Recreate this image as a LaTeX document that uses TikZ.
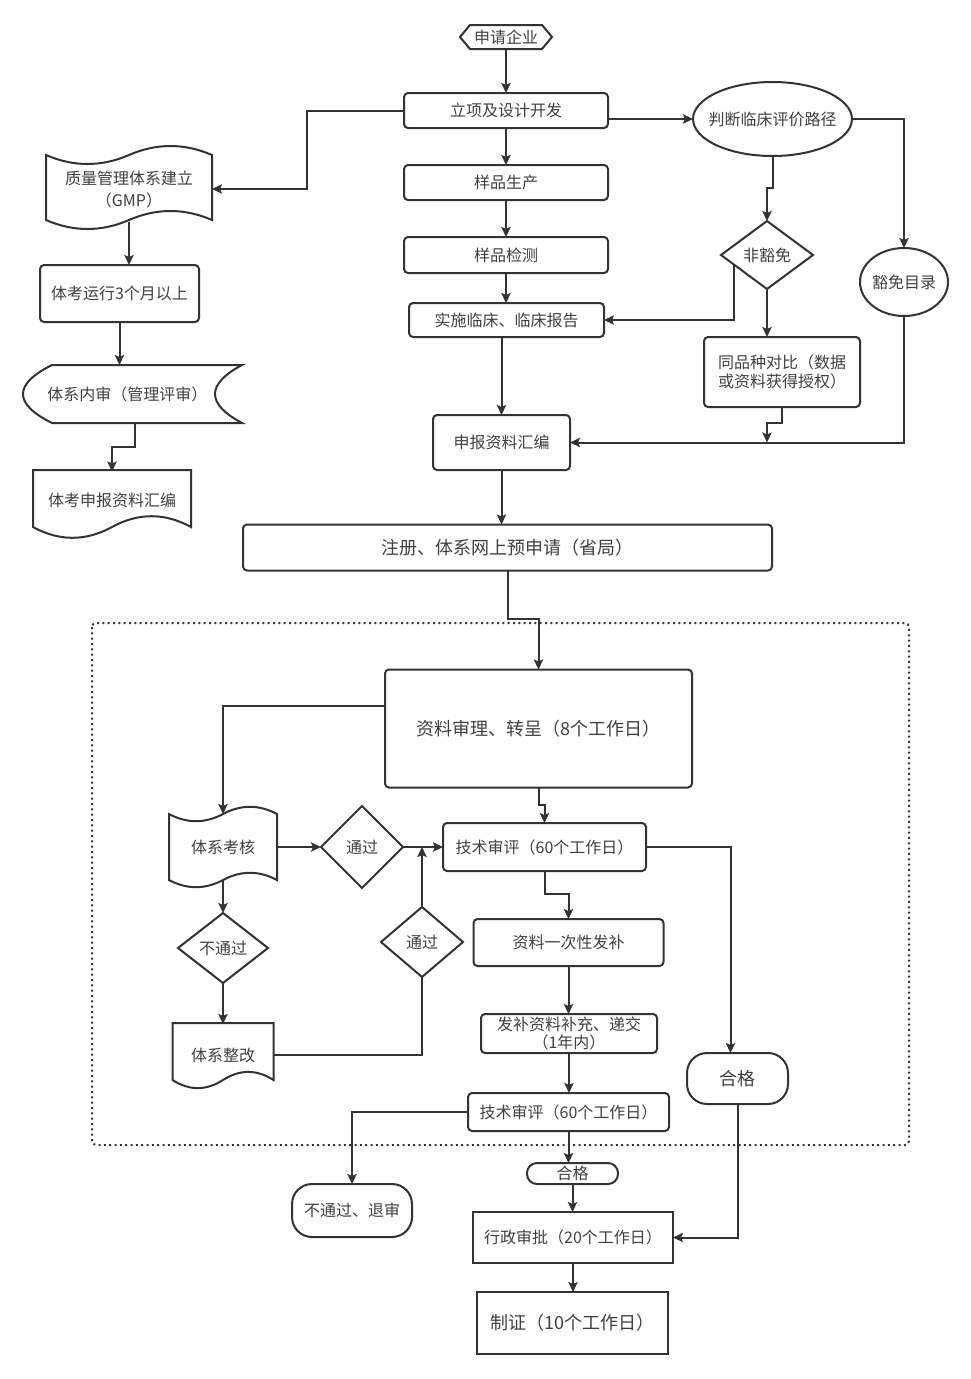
\documentclass[tikz,border=0pt]{standalone}
\usepackage{fontspec}
\setmainfont{Noto Sans CJK SC}
\usetikzlibrary{arrows.meta,calc}
\definecolor{lc}{HTML}{333333}
\definecolor{tc}{HTML}{404040}
\newcommand\szS{\fontsize{12}{14.5}\selectfont}
\newcommand\szL{\fontsize{13.5}{16}\selectfont}
% tape shape: L T R B dy
\newcommand\tapepath[5]{%
 \draw[shp] (#1,{#2+#5/2})
   .. controls ({#1+(#3-#1)/6},{#2+1.1*#5}) and ({#1+(#3-#1)/3},{#2+1.1*#5}) .. ({(#1+#3)/2},{#2+#5/2})
   .. controls ({#1+2*(#3-#1)/3},{#2-0.1*#5}) and ({#3-(#3-#1)/6},{#2-0.1*#5}) .. (#3,{#2+#5/2})
   -- (#3,{#4-#5/2})
   .. controls ({#3-(#3-#1)/6},{#4-1.1*#5}) and ({#3-(#3-#1)/3},{#4-1.1*#5}) .. ({(#1+#3)/2},{#4-#5/2})
   .. controls ({#1+(#3-#1)/3},{#4+0.1*#5}) and ({#1+(#3-#1)/6},{#4+0.1*#5}) .. (#1,{#4-#5/2})
   -- cycle;}
% document shape: L T R B dy
\newcommand\docpath[5]{%
 \draw[shp] (#1,#2) -- (#3,#2) -- (#3,{#4-#5/2})
   .. controls ({#3-(#3-#1)/6},{#4-1.1*#5}) and ({#3-(#3-#1)/3},{#4-1.1*#5}) .. ({(#1+#3)/2},{#4-#5/2})
   .. controls ({#1+(#3-#1)/3},{#4+0.1*#5}) and ({#1+(#3-#1)/6},{#4+0.1*#5}) .. (#1,{#4-#5/2})
   -- cycle;}
\begin{document}
\begin{tikzpicture}[x=0.75pt,y=-0.75pt,
  sz/.style 2 args={minimum width=#1*0.75pt, minimum height=#2*0.75pt},
  lbl/.style={inner sep=0pt, outer sep=0pt, align=center, text=tc, font=\szS},
  box/.style={lbl, draw=lc, line width=1.5pt, rounded corners=3pt},
  sharpbox/.style={lbl, draw=lc, line width=1.5pt},
  term/.style={lbl, draw=lc, line width=1.5pt, rounded corners=15pt},
  shp/.style={draw=lc, line width=1.5pt},
  ln/.style={draw=lc, line width=1.5pt},
  arr/.style={draw=lc, line width=1.5pt, -{Stealth[length=7.5pt,width=7pt,inset=1.5pt]}},
  big/.style={font=\szL},
  frame/.style={draw=lc, line width=1.5pt, dash pattern=on 1.5pt off 2.5pt, rounded corners=3pt}]
\fill[white] (0,0) rectangle (971,1379);
\useasboundingbox (0,0) rectangle (971,1379);

% ---------- top section ----------
\node[lbl, sz={92}{24}] (start) at (506,37) {申请企业};
\draw[shp] (start.west) -- ($(start.north west)+(10,0)$) -- ($(start.north east)+(-10,0)$)
  -- (start.east) -- ($(start.south east)+(-10,0)$) -- ($(start.south west)+(10,0)$) -- cycle;
\node[box, sz={204}{35}] (lixiang) at (506,110.5) {立项及设计开发};
\node[box, sz={204}{35}] (yangpin) at (506,182.5) {样品生产};
\node[box, sz={204}{36}] (jiance) at (506,255) {样品检测};
\node[box, sz={195}{34}] (shishi) at (506.5,320) {实施临床、临床报告};
\node[box, sz={137}{55}] (shenbao) at (501.5,442.5) {申报资料汇编};
\node[box, big, sz={529}{46}] (zhuce) at (507.5,547.5) {注册、体系网上预申请（省局）};

\node[lbl, sz={159}{74}] (pd) at (772.5,119) {判断临床评价路径};
\draw[shp] (pd.center) ellipse [x radius=59.6pt, y radius=27.75pt];
\node[lbl, sz={92}{68}] (fhm) at (767,255) {非豁免};
\draw[shp] (fhm.north) -- (fhm.east) -- (fhm.south) -- (fhm.west) -- cycle;
\node[lbl, sz={88}{68}] (hmml) at (904,282) {豁免目录};
\draw[shp] (hmml.center) ellipse [x radius=33pt, y radius=25.5pt];
\node[box, sz={156}{70}, font={\fontsize{12}{14.5}\selectfont}] (tongpin) at (782,372) {同品种对比（数据\\或资料获得授权）};

% ---------- left column ----------
\node[lbl, sz={166}{65}] (zhiliang) at (129,189) {质量管理体系建立\\[2pt]（GMP）};
\tapepath{46}{145}{212}{230}{20}
\node[box, sz={159}{57}] (tiyun) at (119.5,293.5) {体考运行3个月以上};
\node[lbl, sz={209}{58}] (neishen) at (127.5,394) {体系内审（管理评审）};
\draw[shp] (52,365) -- (242,365) .. controls (206,384.3) and (206,403.7) .. (242,423)
  -- (52,423) .. controls (13.3,403.7) and (13.3,384.3) .. (52,365) -- cycle;
\node[lbl, sz={158}{57}] (tkshenbao) at (112,500) {体考申报资料汇编};
\docpath{33}{470}{191}{539}{24}

% ---------- dotted frame ----------
\draw[frame] (92,623) rectangle (909,1145);

\node[box, big, sz={307}{118}] (shenli) at (538.5,728.5) {资料审理、转呈（8个工作日）};
\node[lbl, sz={108}{66}] (khe) at (223,847) {体系考核};
\tapepath{169}{806}{277}{888}{16}
\node[lbl, sz={82}{82}] (tg1) at (362,847) {通过};
\draw[shp] (tg1.north) -- (tg1.east) -- (tg1.south) -- (tg1.west) -- cycle;
\node[box, sz={203}{48}] (jishu1) at (544.5,847) {技术审评（60个工作日）};
\node[lbl, sz={90}{70}] (bt) at (223,948) {不通过};
\draw[shp] (bt.north) -- (bt.east) -- (bt.south) -- (bt.west) -- cycle;
\node[lbl, sz={101}{62}] (zhenggai) at (223,1055) {体系整改};
\docpath{172.5}{1023}{273.5}{1089}{18}
\node[lbl, sz={82}{70}] (tg2) at (422,942) {通过};
\draw[shp] (tg2.north) -- (tg2.east) -- (tg2.south) -- (tg2.west) -- cycle;
\node[box, sz={190}{47}] (bufa) at (568.5,942.5) {资料一次性发补};
\node[box, sz={176}{39}, font={\fontsize{12}{14}\selectfont}] (bucong) at (569,1033.5) {发补资料补充、递交\\（1年内）};
\node[box, sz={201}{38}] (jishu2) at (568.5,1112) {技术审评（60个工作日）};
\node[term, big, sz={101}{51}] (hege1) at (737.5,1078.5) {合格};

% ---------- bottom ----------
\node[term, rounded corners=7.5pt, sz={91}{21}] (hege2) at (572.5,1173.5) {合格};
\node[term, sz={120}{53}] (tuishen) at (352,1210.5) {不通过、退审};
\node[sharpbox, sz={200}{51}] (xingzheng) at (573,1237.5) {行政审批（20个工作日）};
\node[sharpbox, big, sz={191}{62}] (zhizheng) at (572.5,1323) {制证（10个工作日）};

% ---------- connectors ----------
\draw[arr] (start.south) -- (lixiang.north);
\draw[arr] (lixiang.east |- pd.west) -- (pd.west);
\draw[arr] (lixiang.west) -- ++(-97,0) |- (zhiliang.east);
\draw[arr] (lixiang.south) -- (yangpin.north);
\draw[arr] (yangpin.south) -- (jiance.north);
\draw[arr] (jiance.south) -- (jiance.south |- shishi.north);
\draw[arr] (shenbao.north |- shishi.south) -- (shenbao.north);
\draw[arr] (pd.south) -- ++(0,32) -| (fhm.north);
\draw[arr] ($(fhm.west)!0.28!(fhm.south)$) |- (shishi.east);
\draw[arr] (fhm.south) -- (fhm.south |- tongpin.north);
\coordinate (j1) at (fhm.south |- shenbao.east);
\draw[arr] (tongpin.south) -- ++(0,16) -| (j1);
\draw[arr] (pd.east) -| (hmml.north);
\draw[arr] (hmml.south) |- (shenbao.east);
\draw[arr] (shenbao.south) -- (shenbao.south |- zhuce.north);
\draw[arr] (zhuce.south) -- ++(0,48) -| (shenli.north);

\draw[arr] (zhiliang.south) -- (zhiliang.south |- tiyun.north);
\draw[arr] (tiyun.south) -- (tiyun.south |- neishen.north);
\draw[arr] ($(neishen.south)+(7,0)$) -- ++(0,24) -| (tkshenbao.north);

\draw[arr] ($(shenli.north west)!0.31!(shenli.south west)$) -| (khe.north);
\draw[arr] (shenli.south) -- ++(0,17) -| (jishu1.north);
\draw[arr] (khe.east) -- (tg1.west);
\draw[arr] (tg1.east) -- (jishu1.west);
\draw[arr] (khe.south) -- (bt.north);
\draw[arr] (bt.south) -- (zhenggai.north);
\draw[ln] (zhenggai.east) -| (tg2.south);
\coordinate (j2) at (tg2.north |- jishu1.west);
\draw[arr] (tg2.north) -- (j2);
\draw[arr] (jishu1.south) -- ++(0,23) -| (bufa.north);
\draw[arr] (bufa.south) -- (bufa.south |- bucong.north);
\draw[arr] (bucong.south) -- (bucong.south |- jishu2.north);
\draw[arr] (jishu1.east) -| ($(hege1.north)+(-7,0)$);
\draw[arr] (hege1.south) |- (xingzheng.east);
\draw[arr] (jishu2.west) -| (tuishen.north);
\draw[arr] (jishu2.south) -- (jishu2.south |- hege2.north);
\draw[arr] (hege2.south) -- (hege2.south |- xingzheng.north);
\draw[arr] (xingzheng.south) -- (xingzheng.south |- zhizheng.north);
\end{tikzpicture}
\end{document}
